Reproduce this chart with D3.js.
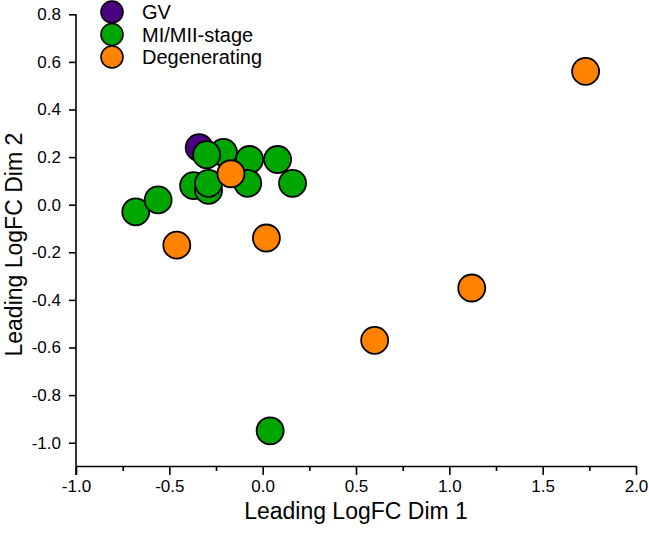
<!DOCTYPE html>
<html>
<head>
<meta charset="utf-8">
<script src="https://cdn.jsdelivr.net/npm/d3@7"></script>
<style>
  html, body { margin: 0; padding: 0; background: #fff; }
  svg { display: block; font-family: Arial, "Liberation Sans", sans-serif; }
</style>
</head>
<body>
<svg id="chart" width="649" height="534"></svg>
<script>
// ---- data ----
const groups = ["GV", "MI/MII-stage", "Degenerating"];
const groupColors = ["#4B0082", "#00A600", "#FF8300"];

const gvX = [-0.34];
const gvY = [0.24];

const miX = [-0.68, -0.56, -0.37, -0.29, -0.29, -0.21, -0.30, -0.07, -0.08, 0.08, 0.16, 0.04];
const miY = [-0.03, 0.02, 0.08, 0.06, 0.09, 0.22, 0.21, 0.19, 0.09, 0.19, 0.09, -0.95];

const degX = [1.73, 1.12, 0.60, 0.02, -0.46, -0.17];
const degY = [0.56, -0.35, -0.57, -0.14, -0.17, 0.13];

const xTicks = [-1.0, -0.5, 0.0, 0.5, 1.0, 1.5, 2.0];
const xMinorTicks = [-0.75, -0.25, 0.25, 0.75, 1.25, 1.75];
const yTicks = [0.8, 0.6, 0.4, 0.2, 0.0, -0.2, -0.4, -0.6, -0.8, -1.0];

const xTitle = "Leading LogFC Dim 1";
const yTitle = "Leading LogFC Dim 2";

// ---- layout ----
const svg = d3.select("#chart");
const x = d3.scaleLinear().domain([-1, 2]).range([76, 636]);
const y = d3.scaleLinear().domain([-1, 0.8]).range([442.7, 14.3]);
const xAxisY = 466;
const yAxisBottom = 475;

const fmt = v => d3.format(".1f")(v).replace("\u2212", "-");

// x axis
const gx = svg.append("g").attr("transform", `translate(0,${xAxisY})`);
gx.call(d3.axisBottom(x).tickValues(xMinorTicks).tickSize(5).tickFormat(""))
  .call(g => g.select(".domain").remove());
gx.append("g").call(d3.axisBottom(x).tickValues(xTicks).tickSize(9).tickSizeOuter(0).tickFormat(fmt).tickPadding(5));
gx.selectAll("text").attr("font-size", 17).attr("fill", "#000").attr("font-family", "Arial, 'Liberation Sans', sans-serif");
gx.selectAll("line, path").attr("stroke", "#000").attr("stroke-width", 1.6);

// y axis
const gy = svg.append("g").attr("transform", `translate(${x(-1)},0)`);
gy.call(d3.axisLeft(y).tickValues(yTicks).tickSize(7).tickSizeOuter(0).tickFormat(fmt).tickPadding(8));
gy.select(".domain").attr("d", `M0,${y(0.8)}V${yAxisBottom}`);
gy.selectAll("text").attr("font-size", 17).attr("fill", "#000").attr("font-family", "Arial, 'Liberation Sans', sans-serif");
gy.selectAll("line, path").attr("stroke", "#000").attr("stroke-width", 1.6);

// titles
svg.append("text").attr("x", (x(-1) + x(2)) / 2).attr("y", 519)
  .attr("text-anchor", "middle").attr("font-size", 23).text(xTitle);
svg.append("text").attr("transform", `translate(22,${(y(0.8) + yAxisBottom) / 2}) rotate(-90)`)
  .attr("text-anchor", "middle").attr("font-size", 23).text(yTitle);

// points
const series = [
  { xs: gvX, ys: gvY, color: groupColors[0] },
  { xs: miX, ys: miY, color: groupColors[1] },
  { xs: degX, ys: degY, color: groupColors[2] }
];
series.forEach(s => {
  svg.append("g").selectAll("circle")
    .data(s.xs.map((v, i) => [v, s.ys[i]]))
    .join("circle")
    .attr("cx", d => x(d[0]))
    .attr("cy", d => y(d[1]))
    .attr("r", 13.5)
    .attr("fill", s.color)
    .attr("stroke", "#000")
    .attr("stroke-width", 1.8);
});

// legend
const leg = svg.append("g");
groups.forEach((g, i) => {
  const cy = 12 + i * 22.5;
  leg.append("circle").attr("cx", 112).attr("cy", cy).attr("r", 11)
    .attr("fill", groupColors[i]).attr("stroke", "#000").attr("stroke-width", 1.6);
  leg.append("text").attr("x", 142).attr("y", cy).attr("dy", "0.35em")
    .attr("font-size", 20).text(g);
});
</script>
</body>
</html>
